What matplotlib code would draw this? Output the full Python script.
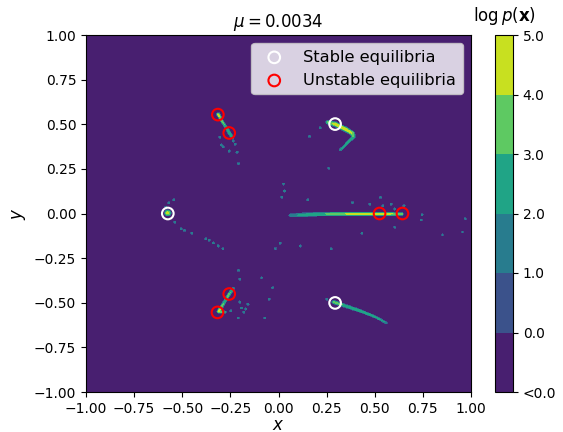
import numpy as np
import matplotlib
matplotlib.use('Agg')
import matplotlib.pyplot as plt

# ---------------- data ----------------
mu = 0.0034
stable_x = [-0.575, 0.294, 0.294]
stable_y = [0.0, 0.501, -0.501]
unstable_x = [-0.315, -0.256, -0.256, -0.317, 0.525, 0.644]
unstable_y = [0.554, 0.451, -0.451, -0.554, 0.0, 0.0]

levels = [-1, 0, 1, 2, 3, 4, 5]
tick_labels = ['<0.0', '0.0', '1.0', '2.0', '3.0', '4.0', '5.0']

# ridges of high log-density: (x, y, log p, half-width)
ridge_h_x = [0.062, 0.12, 0.20, 0.28, 0.36, 0.46, 0.56, 0.64]
ridge_h_y = [-0.010, -0.008, -0.004, -0.003, -0.003, -0.003, -0.003, -0.003]
ridge_h_v = [1.6, 2.3, 2.8, 3.3, 4.2, 4.5, 4.4, 3.6]
ridge_h_w = [0.008, 0.010, 0.010, 0.010, 0.009, 0.009, 0.009, 0.008]

ridge_ur_x = [0.256, 0.295, 0.355, 0.384, 0.390, 0.364, 0.321]
ridge_ur_y = [0.511, 0.500, 0.468, 0.449, 0.430, 0.402, 0.356]
ridge_ur_v = [3.4, 4.4, 4.4, 4.0, 3.0, 2.5, 2.1]
ridge_ur_w = [0.010, 0.013, 0.012, 0.011, 0.008, 0.005, 0.005]

ridge_lr_x = [0.286, 0.348, 0.426, 0.504, 0.561]
ridge_lr_y = [-0.496, -0.518, -0.546, -0.580, -0.613]
ridge_lr_v = [3.4, 2.9, 2.7, 2.4, 2.0]
ridge_lr_w = [0.008, 0.008, 0.007, 0.005, 0.004]

ridge_ul_x = [-0.313, -0.291, -0.270, -0.255, -0.239]
ridge_ul_y = [0.556, 0.513, 0.479, 0.451, 0.423]
ridge_ul_v = [4.5, 3.3, 2.9, 2.9, 2.3]
ridge_ul_w = [0.008, 0.006, 0.006, 0.007, 0.005]

ridge_ll_x = [-0.234, -0.256, -0.281, -0.310, -0.279]
ridge_ll_y = [-0.419, -0.451, -0.496, -0.548, -0.553]
ridge_ll_v = [2.5, 3.3, 2.9, 4.5, 2.9]
ridge_ll_w = [0.005, 0.007, 0.006, 0.009, 0.006]

blob_x = [-0.575]
blob_y = [0.003]
blob_v = [4.6]
blob_w = [0.017]

# isolated specks of moderate density
speck_x = [-0.305, -0.296, -0.287, -0.256, -0.215, -0.208, -0.225, -0.235,
           -0.570, -0.545, -0.585, 0.217, 0.161, 0.260, 0.026, 0.031, 0.017,
           0.152, 0.384, 0.474, 0.530, 0.542, 0.585, 0.651, 0.603, -0.539,
           -0.505, -0.488, -0.450, -0.378, -0.360, -0.338, -0.312, -0.289,
           -0.016, -0.208, -0.201, -0.088, -0.031, -0.048, -0.201, -0.159,
           -0.192, -0.170, -0.180, -0.248, -0.208, -0.071, 0.746, 0.741,
           0.603, 0.433, 0.009, 0.114, 0.274, 0.852, 0.956, 0.971, 0.251]
speck_y = [0.427, 0.384, 0.374, 0.350, 0.343, 0.279, 0.388, 0.406,
           0.061, 0.077, 0.036, 0.481, 0.432, 0.253, 0.165, 0.126, 0.091,
           0.077, 0.061, 0.052, 0.091, 0.044, 0.052, 0.044, 0.025, -0.049,
           -0.085, -0.094, -0.111, -0.141, -0.150, -0.165, -0.182, -0.197,
           -0.197, -0.318, -0.369, -0.360, -0.416, -0.481, -0.496, -0.509,
           -0.529, -0.535, -0.553, -0.545, -0.585, -0.585, -0.007, -0.036,
           -0.077, -0.111, -0.167, -0.182, -0.197, -0.120, -0.104, -0.029, -0.481]
speck_v = 1.8
speck_w = 0.0055

# ---------------- density field ----------------
n = 500
gx = np.linspace(-1, 1, n)
gy = np.linspace(-1, 1, n)
X, Y = np.meshgrid(gx, gy)
F = np.full_like(X, -0.5)


def add_ridge(F, xs, ys, vs, ws):
    for i in range(len(xs) - 1):
        ax_, ay_ = xs[i], ys[i]
        bx, by = xs[i + 1], ys[i + 1]
        dx, dy = bx - ax_, by - ay_
        L2 = dx * dx + dy * dy
        t = np.clip(((X - ax_) * dx + (Y - ay_) * dy) / L2, 0, 1)
        d = np.hypot(X - (ax_ + t * dx), Y - (ay_ + t * dy))
        v = vs[i] + t * (vs[i + 1] - vs[i])
        w = ws[i] + t * (ws[i + 1] - ws[i])
        F = np.maximum(F, v * (1 - (d / w) ** 2))
    return F


def add_points(F, xs, ys, vs, ws):
    for x0, y0, v, w in zip(xs, ys, vs, ws):
        d = np.hypot(X - x0, Y - y0)
        F = np.maximum(F, v * (1 - (d / w) ** 2))
    return F


F = add_ridge(F, ridge_h_x, ridge_h_y, ridge_h_v, ridge_h_w)
F = add_ridge(F, ridge_ur_x, ridge_ur_y, ridge_ur_v, ridge_ur_w)
F = add_ridge(F, ridge_lr_x, ridge_lr_y, ridge_lr_v, ridge_lr_w)
F = add_ridge(F, ridge_ul_x, ridge_ul_y, ridge_ul_v, ridge_ul_w)
F = add_ridge(F, ridge_ll_x, ridge_ll_y, ridge_ll_v, ridge_ll_w)
F = add_points(F, blob_x, blob_y, blob_v, blob_w)
F = add_points(F, speck_x, speck_y, [speck_v] * len(speck_x), [speck_w] * len(speck_x))
F = np.clip(F, -0.99, 4.99)

# ---------------- plot ----------------
fig = plt.figure(figsize=(5.63, 4.32), dpi=100)
ax = fig.add_axes([86 / 563, 40 / 432, 385 / 563, 357 / 432])
cax = fig.add_axes([495 / 563, 40 / 432, 18 / 563, 357 / 432])

cs = ax.contourf(X, Y, F, levels=levels, cmap='viridis')
ax.scatter(stable_x, stable_y, s=70, facecolors='none', edgecolors='white',
           linewidths=1.5, label='Stable equilibria', zorder=3)
ax.scatter(unstable_x, unstable_y, s=70, facecolors='none', edgecolors='red',
           linewidths=1.5, label='Unstable equilibria', zorder=3)
ax.set_xlim(-1, 1)
ax.set_ylim(-1, 1)
ax.set_xticks(np.arange(-1, 1.01, 0.25))
ax.set_yticks(np.arange(-1, 1.01, 0.25))
ax.set_xlabel(r'$x$', fontsize=12, labelpad=0)
ax.set_ylabel(r'$y$', fontsize=12)
ax.set_title(r'$\mu = %s$' % mu, fontsize=12)
ax.legend(loc='upper right', fontsize=11.7)

cb = fig.colorbar(cs, cax=cax, ticks=levels)
cb.ax.set_yticklabels(tick_labels)
cb.ax.set_title(r'$\log p(\mathbf{x})$', fontsize=12, pad=10)

fig.savefig('out.png', dpi=100)
